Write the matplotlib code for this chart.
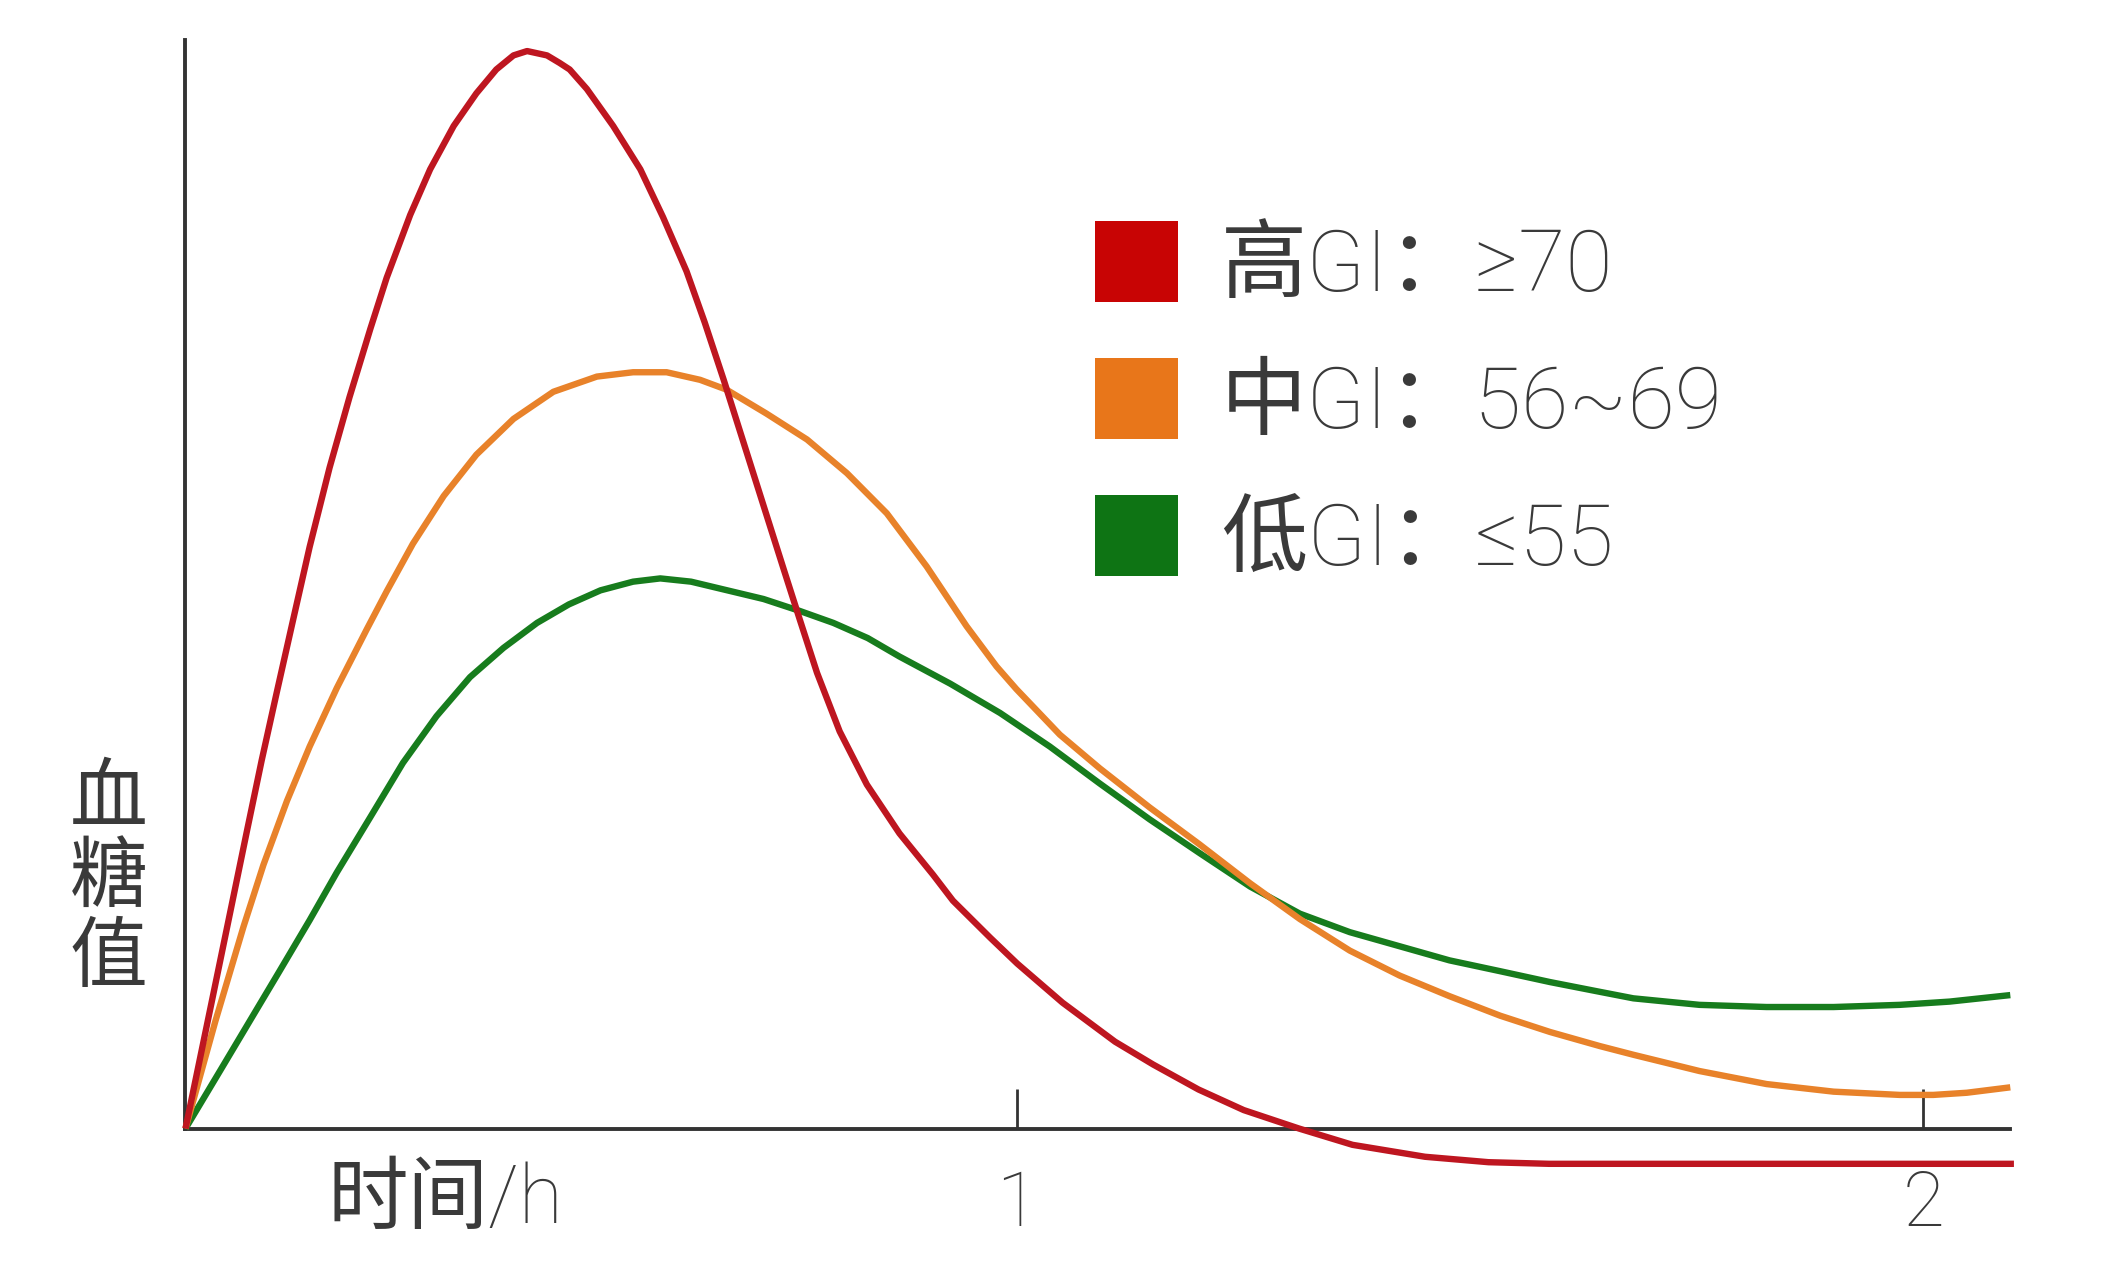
import matplotlib
matplotlib.use("Agg")
import matplotlib.pyplot as plt
from matplotlib.patches import Patch

plt.rcParams['font.family'] = ['Noto Sans CJK SC', 'DejaVu Sans']
latin_cjk = ['Roboto', 'DejaVu Sans', 'Noto Sans CJK SC']

# 时间 (h) 与 血糖值 (相对值)
red_t = [0.082, 0.110, 0.131, 0.150, 0.166, 0.183, 0.200, 0.219, 0.241, 0.263, 0.286,
         0.304, 0.330, 0.352, 0.378, 0.403, 0.425, 0.444, 0.459, 0.481, 0.495, 0.506,
         0.525, 0.554, 0.584, 0.609, 0.635, 0.655, 0.676, 0.698, 0.720, 0.742, 0.760,
         0.779, 0.804, 0.834, 0.870, 0.907, 0.929, 0.970, 1.000, 1.050, 1.108, 1.150,
         1.200, 1.250, 1.311, 1.370, 1.450, 1.520, 1.587, 1.750, 1.900, 2.100]
red_y = [0, 11.3, 19.8, 27.5, 33.9, 40.3, 46.6, 53.6, 60.9, 67.4, 73.7,
         78.4, 84.2, 88.4, 92.4, 95.4, 97.6, 98.9, 99.3, 98.9, 98.2, 97.6,
         95.8, 92.4, 88.4, 84.0, 79.0, 74.3, 69.0, 63.2, 57.4, 51.6, 46.9,
         42.0, 36.6, 31.7, 27.2, 23.4, 21.0, 17.6, 15.2, 11.6, 8.0, 5.9,
         3.6, 1.7, 0, -1.5, -2.6, -3.1, -3.25, -3.25, -3.25, -3.25]

orange_t = [0.082, 0.115, 0.146, 0.168, 0.194, 0.219, 0.249, 0.282, 0.304, 0.333, 0.367,
            0.403, 0.444, 0.488, 0.536, 0.576, 0.613, 0.650, 0.679, 0.723, 0.768, 0.812,
            0.856, 0.900, 0.944, 0.977, 0.999, 1.047, 1.091, 1.146, 1.201, 1.257, 1.312,
            1.367, 1.422, 1.477, 1.533, 1.588, 1.643, 1.680, 1.753, 1.827, 1.901, 1.974,
            2.011, 2.048, 2.096]
orange_y = [0, 9.9, 18.6, 24.3, 30.2, 35.2, 40.6, 46.0, 49.5, 53.9, 58.3,
            62.1, 65.4, 67.9, 69.3, 69.7, 69.7, 69.0, 68.1, 65.9, 63.5, 60.4,
            56.7, 51.8, 46.3, 42.6, 40.5, 36.3, 33.2, 29.6, 26.2, 22.6, 19.3,
            16.4, 14.1, 12.2, 10.4, 8.9, 7.6, 6.8, 5.3, 4.1, 3.4, 3.1,
            3.1, 3.3, 3.8]

green_t = [0.082, 0.120, 0.150, 0.185, 0.219, 0.249, 0.286, 0.322, 0.359, 0.396, 0.433,
           0.470, 0.505, 0.540, 0.576, 0.606, 0.640, 0.680, 0.720, 0.760, 0.797, 0.835,
           0.870, 0.926, 0.981, 1.036, 1.091, 1.146, 1.201, 1.257, 1.312, 1.367, 1.422,
           1.477, 1.533, 1.588, 1.643, 1.680, 1.753, 1.827, 1.901, 1.974, 2.029, 2.096]
green_y = [0, 5.3, 9.5, 14.4, 19.2, 23.6, 28.7, 33.7, 38.0, 41.6, 44.3,
           46.6, 48.3, 49.6, 50.4, 50.7, 50.4, 49.6, 48.8, 47.7, 46.6, 45.2,
           43.5, 41.0, 38.3, 35.2, 31.8, 28.5, 25.4, 22.3, 19.8, 18.1, 16.8,
           15.5, 14.5, 13.5, 12.6, 12.0, 11.4, 11.2, 11.2, 11.4, 11.7, 12.3]

labels = ['高GI：≥70', '中GI：56~69', '低GI：≤55']
line_colors = ['#be1620', '#e8822a', '#177c1d']
box_colors = ['#c80404', '#e8761a', '#0e7414']
xticks = [1, 2]
xticklabels = ['1', '2']

text_color = '#3a3a3a'

fig = plt.figure(figsize=(21.27, 12.8), dpi=100)
ax = fig.add_axes([0.0821, 0.0505, 0.869, 0.9325])

# 曲线
kw = dict(lw=4.6, solid_joinstyle='round', solid_capstyle='butt')
ax.plot(green_t, green_y, color=line_colors[2], zorder=3, **kw)
ax.plot(orange_t, orange_y, color=line_colors[1], zorder=4, **kw)
ax.plot(red_t, red_y, color=line_colors[0], zorder=5, **kw)

ax.set_xlim(0.07, 2.11)
ax.set_ylim(-8, 102)

# 坐标轴
for s in ['top', 'right']:
    ax.spines[s].set_visible(False)
ax.spines['left'].set_position(('data', red_t[0]))
ax.spines['left'].set_bounds(0, 100.3)
ax.spines['bottom'].set_position(('data', 0))
ax.spines['bottom'].set_bounds(red_t[0], 2.096)
for s in ['left', 'bottom']:
    ax.spines[s].set_color('#333333')
    ax.spines[s].set_linewidth(2.8)
    ax.spines[s].set_zorder(2)

ax.set_yticks([])
ax.set_xticks(xticks)
ax.set_xticklabels(xticklabels)
ax.tick_params(axis='x', direction='in', length=29, width=2, color='#333333',
               pad=29, labelsize=55, labelcolor=text_color)
for lab in ax.get_xticklabels():
    lab.set_family(latin_cjk)
    lab.set_fontweight('light')

fig.text(0.2092, 0.062, '时间/h', fontsize=58, color=text_color, ha='center', va='center',
         family=latin_cjk, fontweight='light')
fig.text(0.051, 0.313, '血\n糖\n值', fontsize=56, color=text_color, ha='center', va='center',
         linespacing=1.0, fontweight='light')

# 图例
handles = [Patch(facecolor=c, edgecolor='none') for c in box_colors]
leg = fig.legend(handles, labels, loc='upper left', bbox_to_anchor=(0.515, 0.827),
                 bbox_transform=fig.transFigure, frameon=False,
                 prop={'family': latin_cjk, 'size': 62, 'weight': 'light'},
                 handlelength=0.96, handleheight=1.07, handletextpad=0.5,
                 labelspacing=0.573, borderpad=0, borderaxespad=0)
for t in leg.get_texts():
    t.set_color(text_color)

fig.savefig('out.png', dpi=100, facecolor='white')
